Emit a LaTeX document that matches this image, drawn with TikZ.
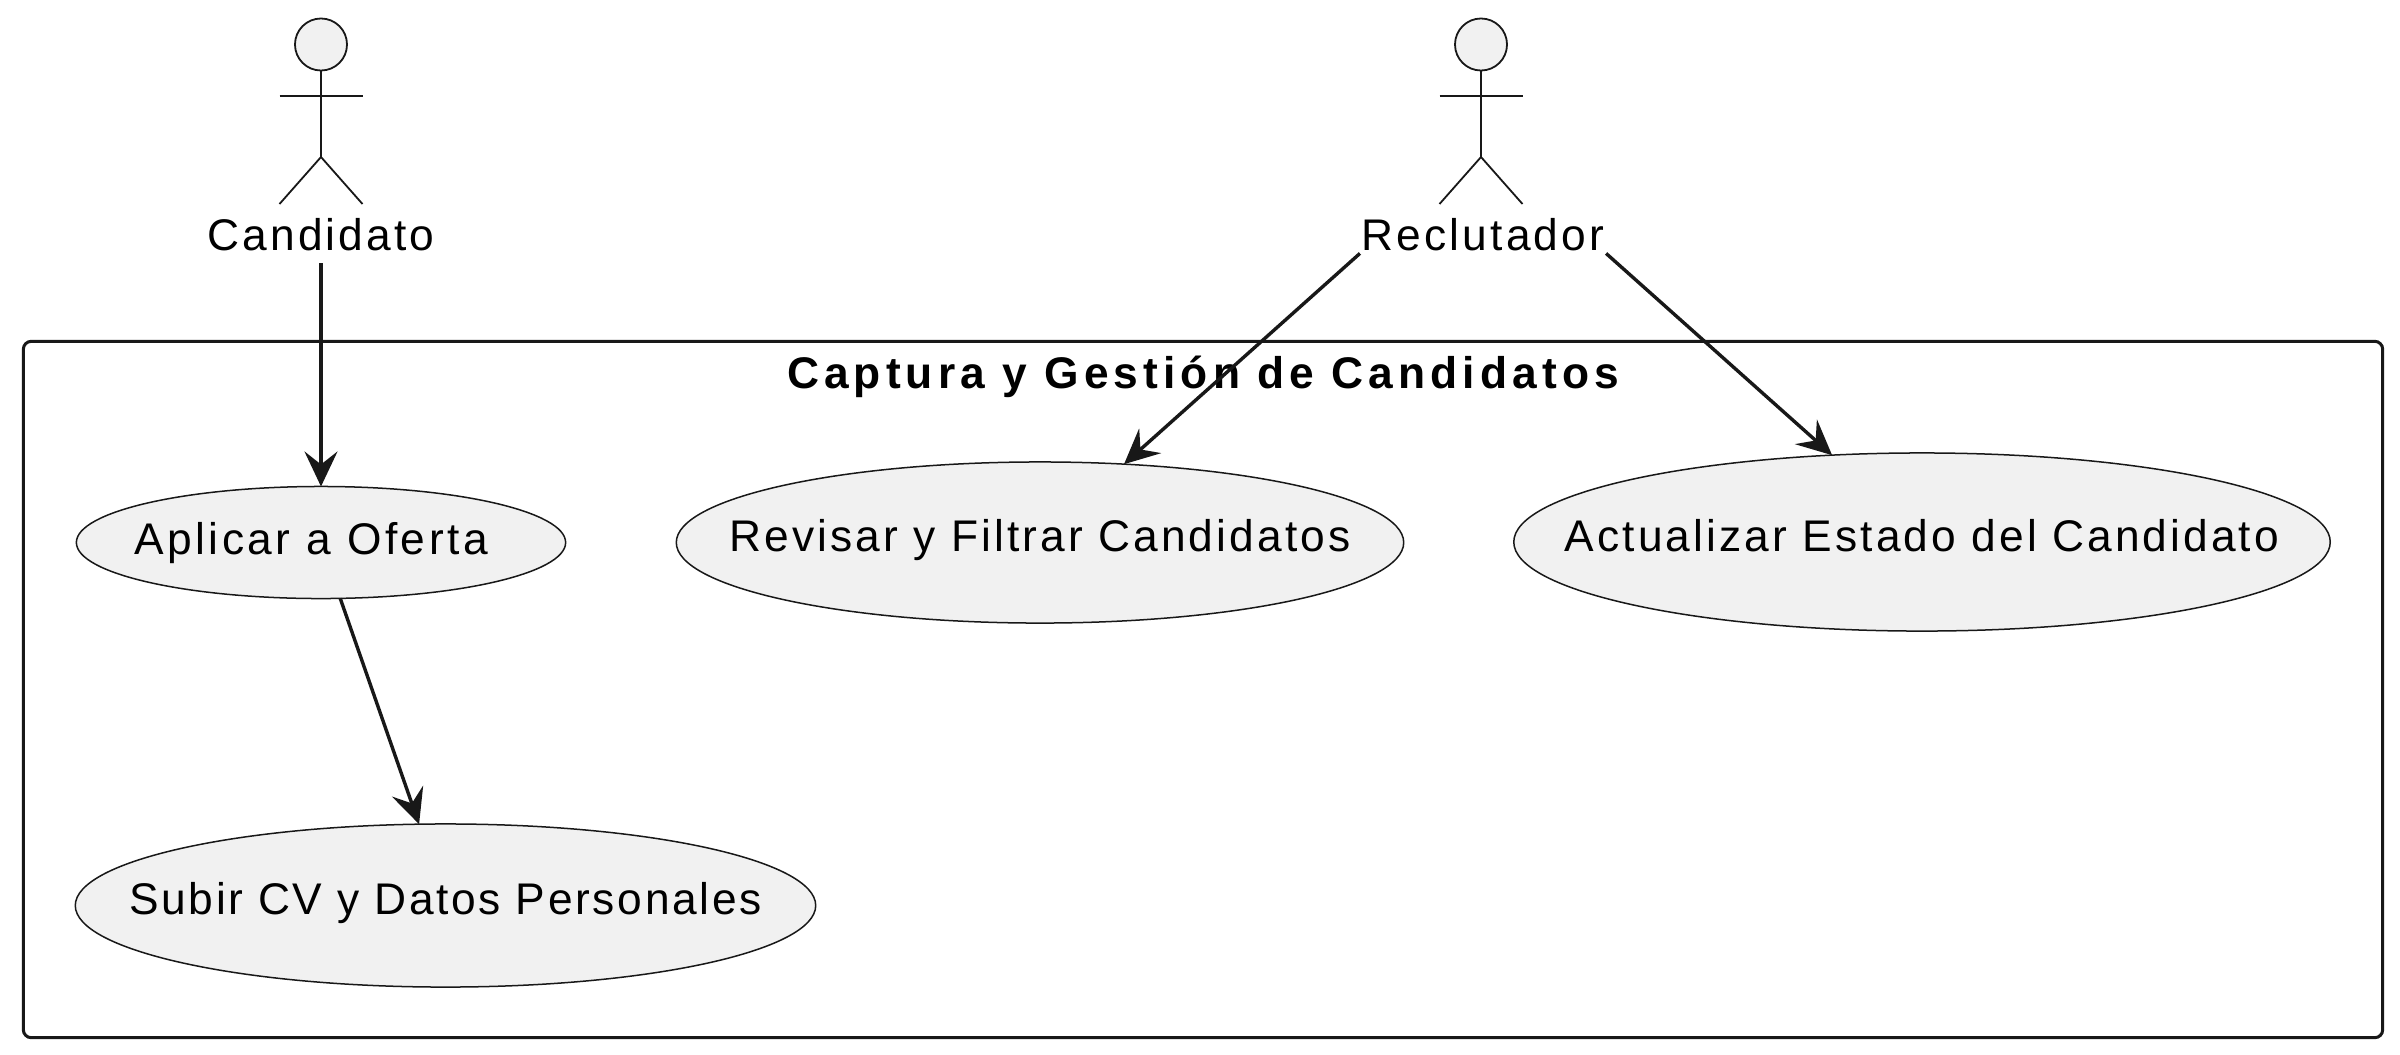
\documentclass[tikz,border=0pt]{standalone}
\usepackage{fontspec}
\setmainfont{Liberation Sans}[LetterSpace=7]
\newfontfamily\titlefont{Liberation Sans}[LetterSpace=11.5]
\usepackage{tikz}
\usetikzlibrary{arrows.meta,shapes.geometric}
\definecolor{linegray}{HTML}{181818}
\definecolor{casegray}{HTML}{F1F1F1}
\newcommand{\casetext}[1]{\makebox[0pt]{#1}}
\tikzset{
	>={Stealth[length=.35cm,width=.33cm,inset=.13cm,line width=.03cm]},
	usecase/.style={ellipse, draw=linegray, fill=casegray, line width=.015cm, inner sep=0, outer sep=0,
		text height=.31cm, text depth=.13cm},
	actorline/.style={draw=linegray, line width=.018cm},
	actorname/.style={anchor=base, inner xsep=.02cm, inner ysep=.03cm, outer sep=0},
	connector/.style={->, draw=linegray, line width=.034cm},
	systembox/.style={draw=linegray, line width=.03cm, rounded corners=.08cm, inner sep=0, outer sep=0},
}
\begin{document}
\begin{tikzpicture}[x=.01cm, y=-.01cm]
	\fontsize{12.6}{14}\selectfont
	\useasboundingbox (0,0) rectangle (2400,1054);
	% system boundary
	\node[systembox, minimum width=23.58cm, minimum height=6.96cm] (captura) at (1203,689.5) {};
	\node[anchor=base, inner sep=0, font=\titlefont\bfseries] (capturatitle) at (1203,388) {Captura y Gestión de Candidatos};
	% actors
	\foreach \x in {321,1481} {
		\draw[actorline, fill=casegray] (\x,44.5) circle (.26cm);
		\draw[actorline] (\x,70.5) -- (\x,157);
		\draw[actorline] (\x-41.5,96) -- (\x+41.5,96);
		\draw[actorline] (\x-41.5,204) -- (\x,157) -- (\x+41.5,204);
	}
	\node[actorname, inner ysep=.13cm] (candidato) at (321,250) {Candidato};
	\node[actorname] (reclutador) at (1483,250) {Reclutador};
	% use cases
	\node[usecase, minimum width=4.89cm, minimum height=1.12cm, text height=.36cm, text depth=.12cm] (aplicar) at (321,542.5) {\casetext{\addfontfeature{LetterSpace=8}\hspace*{-.2cm}Aplicar a Oferta}};
	\node[usecase, minimum width=7.40cm, minimum height=1.63cm] (subir) at (445.5,905.5) {\casetext{\addfontfeature{LetterSpace=6}Subir CV y Datos Personales}};
	\node[usecase, minimum width=7.27cm, minimum height=1.61cm] (revisar) at (1040,542.5) {\casetext{Revisar y Filtrar Candidatos}};
	\node[usecase, minimum width=8.16cm, minimum height=1.78cm] (actualizar) at (1922,542) {\casetext{Actualizar Estado del Candidato}};
	% connectors
	\draw[connector] (candidato.south) -- (aplicar.north);
	\draw[connector] (reclutador.south west) -- (revisar.43.4);
	\draw[connector] (reclutador.south east) -- (actualizar.136.6);
	\draw[connector] (aplicar.-71.1) -- (subir.108.4);
\end{tikzpicture}
\end{document}
